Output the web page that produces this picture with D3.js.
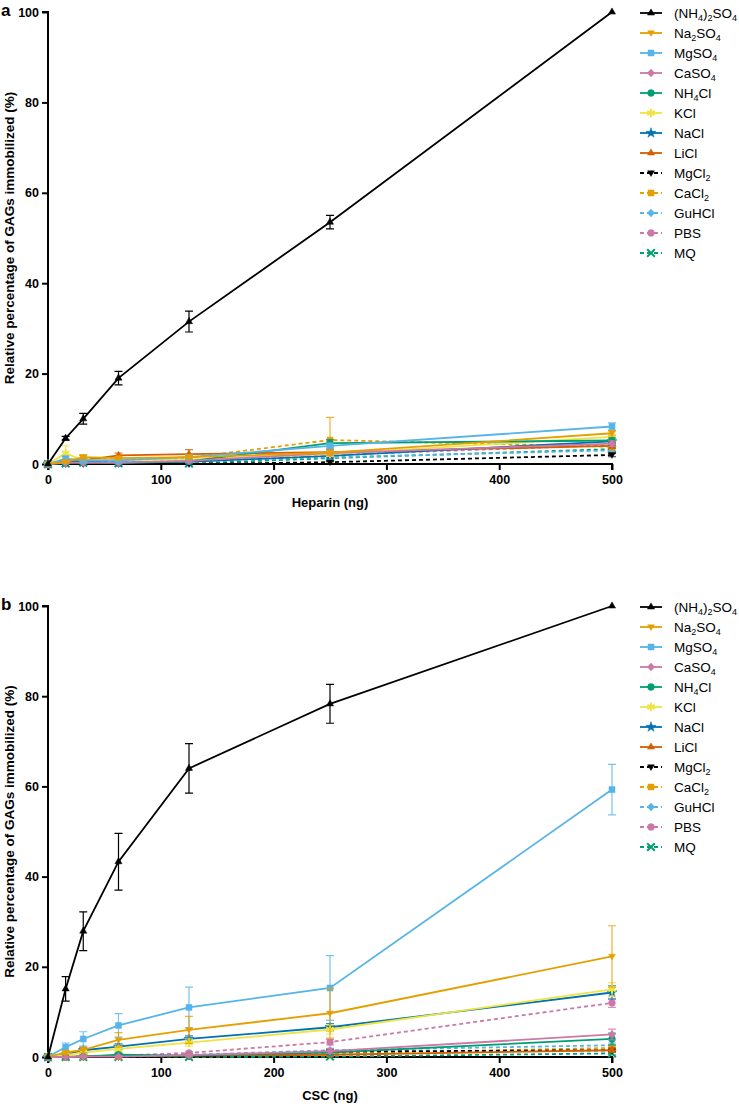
<!DOCTYPE html>
<html><head><meta charset="utf-8">
<script src="https://cdn.jsdelivr.net/npm/d3@7"></script>
<style>body{margin:0;background:#fff}svg{display:block}text{font-family:"Liberation Sans",Arial,sans-serif}</style>
</head><body>
<svg id="c" width="739" height="1104"></svg>
<script>
const xValues = [0, 15.625, 31.25, 62.5, 125, 250, 500];
const xTicks = [0, 100, 200, 300, 400, 500];
const yTicks = [0, 20, 40, 60, 80, 100];
const seriesNames = ["(NH4)2SO4","Na2SO4","MgSO4","CaSO4","NH4Cl","KCl","NaCl","LiCl","MgCl2","CaCl2","GuHCl","PBS","MQ"];
const seriesColors = ["#000000","#E69F00","#56B4E9","#CC79A7","#009E73","#F0E442","#0072B2","#D55E00","#000000","#E69F00","#56B4E9","#CC79A7","#009E73"];
const seriesDashed = [false,false,false,false,false,false,false,false,true,true,true,true,true];
const seriesMarkers = ["triangle","triangleDown","square","diamond","circle","star","starFilled","triangle","triangleDown","square","diamond","circle","cross"];

// Panel a: Heparin
const heparinValues = [
  [0, 5.7, 10, 19, 31.5, 53.5, 100],
  [0, 0.5, 1.5, 1.3, 1.5, 2.5, 6.8],
  [0, 1.2, 0.8, 0.8, 1.5, 4.0, 8.3],
  [0, 0.3, 0.3, 0.3, 0.7, 2.4, 4.5],
  [0, 0.2, 0.3, 0.2, 0.6, 4.6, 5.2],
  [0, 2.4, 0.8, 0.9, 1.0, 2.2, 6.0],
  [0, 0.5, 0.5, 0.3, 0.5, 1.8, 5.0],
  [0, 0.6, 0.8, 1.9, 2.2, 2.6, 4.0],
  [0, 0.0, 0.0, 0.0, 0.0, 0.4, 2.0],
  [0, 0.5, 1.3, 1.0, 1.4, 5.3, 3.8],
  [0, 0.7, 0.5, 0.4, 0.6, 1.5, 3.0],
  [0, 0.3, 0.3, 0.3, 0.8, 2.0, 4.2],
  [0, 0.1, 0.3, 0.2, 0.1, 1.3, 3.3]
];
const heparinErrors = [
  [0, 0.4, 1.2, 1.5, 2.3, 1.5, 0],
  [0, 0.3, 0.6, 0.4, 0.5, 0.6, 0.6],
  [0, 0.5, 0.4, 0.3, 0.5, 0.6, 0.8],
  [0, 0.2, 0.2, 0.2, 0.4, 0.5, 0.6],
  [0, 0.2, 0.2, 0.2, 0.3, 0.8, 0.6],
  [0, 1.6, 0.4, 0.3, 0.4, 0.5, 0.5],
  [0, 0.3, 0.3, 0.2, 0.3, 0.5, 0.5],
  [0, 0.3, 0.4, 0.5, 1.0, 0.6, 0.6],
  [0, 0.1, 0.1, 0.1, 0.1, 0.3, 0.4],
  [0, 0.4, 0.6, 0.4, 0.5, 5.0, 1.5],
  [0, 0.3, 0.3, 0.2, 0.3, 0.4, 0.5],
  [0, 0.2, 0.2, 0.2, 0.4, 0.5, 0.6],
  [0, 0.1, 0.2, 0.1, 0.1, 0.4, 0.5]
];

// Panel b: CSC
const cscValues = [
  [0, 15.1, 27.9, 43.3, 64.0, 78.3, 100],
  [0, 1.0, 1.6, 3.8, 6.0, 9.7, 22.3],
  [0, 2.2, 4.0, 7.0, 11.0, 15.3, 59.3],
  [0, 0.0, 0.1, 0.1, 0.4, 1.3, 5.0],
  [0, 0.0, 0.1, 0.5, 0.3, 1.0, 4.0],
  [0, 0.4, 1.0, 1.8, 3.2, 6.1, 15.0],
  [0, 0.5, 1.5, 2.3, 4.0, 6.6, 14.3],
  [0, 0.0, 0.2, 0.2, 0.3, 0.5, 1.5],
  [0, 0.0, 0.0, 0.0, 0.1, 1.2, 1.5],
  [0, 0.0, 0.0, 0.1, 0.3, 0.8, 2.0],
  [0, 0.0, 0.2, 0.3, 0.5, 1.5, 2.6],
  [0, 0.0, 0.1, 0.3, 0.9, 3.3, 12.0],
  [0, 0.0, 0.0, 0.0, 0.0, 0.1, 0.8]
];
const cscErrors = [
  [0, 2.7, 4.3, 6.3, 5.5, 4.3, 0],
  [0, 0.4, 0.6, 1.6, 3.0, 5.5, 6.8],
  [0, 0.9, 1.6, 2.6, 4.5, 7.2, 5.6],
  [0, 0.1, 0.2, 0.2, 0.3, 0.5, 1.2],
  [0, 0.1, 0.2, 0.3, 0.3, 0.4, 1.3],
  [0, 0.3, 0.5, 0.6, 0.8, 1.0, 1.5],
  [0, 0.4, 0.6, 0.6, 0.7, 0.8, 1.5],
  [0, 0.1, 0.1, 0.1, 0.2, 0.2, 0.4],
  [0, 0.1, 0.1, 0.1, 0.1, 0.3, 0.3],
  [0, 0.1, 0.1, 0.1, 0.2, 0.3, 0.4],
  [0, 0.1, 0.1, 0.2, 0.2, 0.4, 0.5],
  [0, 0.1, 0.1, 0.2, 0.3, 0.6, 1.0],
  [0, 0.1, 0.1, 0.1, 0.1, 0.1, 0.3]
];

const svg = d3.select("#c");

function markerPath(type) {
  switch (type) {
    case "triangle": return d3.symbol(d3.symbolTriangle, 22)();
    case "triangleDown": return "M-3.4,-2.2L3.4,-2.2L0,3.4Z";
    case "square": return d3.symbol(d3.symbolSquare, 36)();
    case "diamond": return "M0,-4L3.6,0L0,4L-3.6,0Z";
    case "circle": return d3.symbol(d3.symbolCircle, 36)();
    case "star": return d3.symbol(d3.symbolAsterisk, 50)();
    case "starFilled": return d3.symbol(d3.symbolStar, 32)();
    case "cross": return d3.symbol(d3.symbolX, 40)();
  }
}

function legendLabel(t, name) {
  const parts = name.match(/[A-Za-z()]+|\d+/g);
  let sub = false;
  parts.forEach((p) => {
    const isNum = /^\d+$/.test(p);
    const ts = t.append("tspan").text(p);
    if (isNum) { ts.attr("font-size", 9); }
    if (isNum && !sub) { ts.attr("dy", 3); sub = true; }
    else if (!isNum && sub) { ts.attr("dy", -3); sub = false; }
  });
}

function drawPanel(opts) {
  const { top, bottom, values, errors, title, letter } = opts;
  const x = d3.scaleLinear().domain([0, 500]).range([48, 612]);
  const y = d3.scaleLinear().domain([0, 100]).range([bottom, top]);
  const g = svg.append("g");

  const yAxis = g.append("g").attr("transform", "translate(48,0)")
    .call(d3.axisLeft(y).tickValues(yTicks).tickSize(6).tickPadding(3));
  const xAxis = g.append("g").attr("transform", `translate(0,${bottom})`)
    .call(d3.axisBottom(x).tickValues(xTicks).tickSize(6).tickPadding(5));
  [yAxis, xAxis].forEach(a => {
    a.select(".domain").attr("stroke", "#000").attr("stroke-width", 2);
    a.selectAll(".tick line").attr("stroke", "#000").attr("stroke-width", 2);
    a.selectAll(".tick text").attr("font-size", 12.5).attr("font-weight", "bold").attr("fill", "#000")
      .attr("font-family", "Liberation Sans, Arial, sans-serif");
  });
  yAxis.select(".domain").attr("d", `M-6,${top}H0V${bottom}`);
  xAxis.select(".domain").attr("d", `M48,6V0H612V6`);

  g.append("text").attr("transform", `translate(14,${(top + bottom) / 2}) rotate(-90)`)
    .attr("text-anchor", "middle").attr("font-size", 13.5).attr("font-weight", "bold")
    .text("Relative percentage of GAGs immobilized (%)");
  g.append("text").attr("x", 330).attr("y", bottom + 43).attr("text-anchor", "middle")
    .attr("font-size", 13).attr("font-weight", "bold").text(title);
  g.append("text").attr("x", 1).attr("y", top + 4).attr("font-size", 17).attr("font-weight", "bold").text(letter);

  const line = d3.line().x((d, i) => x(xValues[i])).y(d => y(d));
  for (let s = seriesNames.length - 1; s >= 0; s--) {
    const col = seriesColors[s];
    const sg = g.append("g");
    values[s].forEach((v, i) => {
      const e = errors[s][i];
      if (e <= 0) return;
      const xx = x(xValues[i]);
      sg.append("path").attr("d", `M${xx},${y(v + e)}V${y(Math.max(0, v - e))}M${xx - 4},${y(v + e)}H${xx + 4}M${xx - 4},${y(Math.max(0, v - e))}H${xx + 4}`)
        .attr("stroke", col).attr("stroke-width", 1.2).attr("fill", "none").attr("opacity", s === 0 ? 1 : 0.8);
    });
    sg.append("path").datum(values[s]).attr("d", line).attr("fill", "none")
      .attr("stroke", col).attr("stroke-width", 1.8)
      .attr("stroke-dasharray", seriesDashed[s] ? "4,3" : null);
    values[s].forEach((v, i) => {
      const m = seriesMarkers[s];
      sg.append("path").attr("d", markerPath(m))
        .attr("transform", `translate(${x(xValues[i])},${y(v)})`)
        .attr("fill", m === "star" || m === "cross" ? "none" : col)
        .attr("stroke", col).attr("stroke-width", m === "star" || m === "cross" ? 2 : 0.5);
    });
  }

  const lg = g.append("g").attr("transform", `translate(640,${top + 1})`);
  seriesNames.forEach((n, i) => {
    const yy = i * 20;
    const col = seriesColors[i];
    lg.append("line").attr("x1", 0).attr("x2", 22).attr("y1", yy).attr("y2", yy)
      .attr("stroke", col).attr("stroke-width", 1.8).attr("stroke-dasharray", seriesDashed[i] ? "4,3" : null);
    const m = seriesMarkers[i];
    lg.append("path").attr("d", markerPath(m)).attr("transform", `translate(11,${yy})`)
      .attr("fill", m === "star" || m === "cross" ? "none" : col)
      .attr("stroke", col).attr("stroke-width", m === "star" || m === "cross" ? 2 : 0.5);
    const t = lg.append("text").attr("x", 34).attr("y", yy + 5).attr("font-size", 13.5).attr("fill", "#000");
    legendLabel(t, n);
  });
}

drawPanel({ top: 12, bottom: 464, values: heparinValues, errors: heparinErrors, title: "Heparin (ng)", letter: "a" });
drawPanel({ top: 606, bottom: 1057, values: cscValues, errors: cscErrors, title: "CSC (ng)", letter: "b" });
</script>
</body></html>
